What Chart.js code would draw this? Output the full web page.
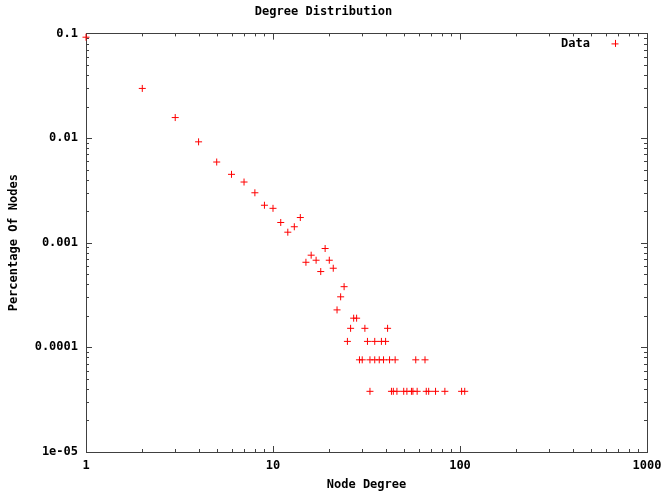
<!DOCTYPE html>
<html>
<head>
<meta charset="utf-8">
<script src="https://cdn.jsdelivr.net/npm/chart.js@4"></script>
<style>
  body { margin: 0; background: #fff; }
  #wrap { width: 664px; height: 494px; }
</style>
</head>
<body>
<div id="wrap"><canvas id="graphDegree" width="664" height="494"></canvas></div>
<script>
// node degree and fraction of nodes with that degree
const degrees = [1, 2, 3, 4, 5, 6, 7, 8, 9, 10,
  11, 12, 13, 14, 15, 16, 17, 18, 19, 20,
  21, 22, 23, 24, 25, 26, 27, 28, 29, 30,
  31, 32, 33, 33, 35, 35, 37, 38, 39, 40,
  41, 42, 43, 44, 45, 46, 50, 52, 55, 56,
  58, 59, 65, 66, 68, 74, 83, 102, 106]
const fractions = [0.092, 0.0298, 0.0157, 0.0092, 0.0059, 0.0045, 0.0038, 0.0030, 0.00228, 0.00213,
  0.00156, 0.00126, 0.00142, 0.00174, 0.00065, 0.00076, 0.00068, 0.00053, 0.00088, 0.00068,
  0.00057, 0.000228, 0.000304, 0.00038, 0.000114, 0.000152, 0.00019, 0.00019, 0.000076, 0.000076,
  0.000152, 0.000114, 0.000076, 0.000038, 0.000076, 0.000114, 0.000076, 0.000114, 0.000076, 0.000114,
  0.000152, 0.000076, 0.000038, 0.000038, 0.000076, 0.000038, 0.000038, 0.000038, 0.000038, 0.000038,
  0.000076, 0.000038, 0.000076, 0.000038, 0.000038, 0.000038, 0.000038, 0.000038, 0.000038]

const xTickValues = [1, 10, 100, 1000]
const xTickLabels = ['1', '10', '100', '1000']
const yTickValues = [1e-5, 1e-4, 1e-3, 1e-2, 0.1]
const yTickLabels = ['1e-05', '0.0001', '0.001', '0.01', '0.1']

const FONT = { family: 'DejaVu Sans Mono', size: 12, weight: 'bold' }

function labelFor(values, labels) {
  return v => {
    const i = values.findIndex(t => Math.abs(t - v) / t < 1e-6)
    return i >= 0 ? labels[i] : ''
  }
}

// gnuplot style frame with inward ticks on all four sides
const frameTicks = {
  id: 'frameTicks',
  beforeDatasetsDraw(chart) {
    const { ctx, chartArea: a, scales: { x, y } } = chart
    ctx.save()
    ctx.strokeStyle = '#404040'
    ctx.lineWidth = 1
    ctx.beginPath()
    for (let e = 0; e < 3; e++) {
      for (let m = 1; m <= 10; m++) {
        const v = m * Math.pow(10, e)
        const px = Math.round(x.getPixelForValue(v)) + 0.5
        const len = (m === 1 || m === 10) ? 6 : 3
        ctx.moveTo(px, a.bottom); ctx.lineTo(px, a.bottom - len)
        ctx.moveTo(px, a.top); ctx.lineTo(px, a.top + len)
      }
    }
    for (let e = -5; e < -1; e++) {
      for (let m = 1; m <= 10; m++) {
        const v = m * Math.pow(10, e)
        const py = Math.round(y.getPixelForValue(v)) + 0.5
        const len = (m === 1 || m === 10) ? 6 : 3
        ctx.moveTo(a.left, py); ctx.lineTo(a.left + len, py)
        ctx.moveTo(a.right, py); ctx.lineTo(a.right - len, py)
      }
    }
    ctx.stroke()
    ctx.strokeRect(Math.round(a.left) + 0.5, Math.round(a.top) + 0.5,
      Math.round(a.right - a.left), Math.round(a.bottom - a.top))
    ctx.restore()
  },
  afterDraw(chart) {
    // key in the top right corner: label text first, then the symbol
    const { ctx, chartArea: a } = chart
    const ds = chart.data.datasets[0]
    const ky = a.top + 10
    ctx.save()
    ctx.font = 'bold 12px "DejaVu Sans Mono"'
    ctx.fillStyle = '#000'
    ctx.textAlign = 'right'
    ctx.textBaseline = 'middle'
    ctx.fillText(ds.label, a.right - 57, ky)
    const cx = a.right - 32
    ctx.strokeStyle = ds.borderColor
    ctx.lineWidth = 1
    ctx.beginPath()
    ctx.moveTo(cx - 3.5, ky + 0.5); ctx.lineTo(cx + 3.5, ky + 0.5)
    ctx.moveTo(cx + 0.5, ky - 3.5); ctx.lineTo(cx + 0.5, ky + 3.5)
    ctx.stroke()
    ctx.restore()
  }
}

const graphDegree = document.getElementById('graphDegree')
const chartDegree = new Chart(graphDegree, {
  type: 'scatter',
  data: {
    datasets: [{
      label: 'Data',
      data: degrees.map((d, i) => ({ x: d, y: fractions[i] })),
      pointStyle: 'cross',
      radius: 3.5,
      borderColor: '#ff0000',
      backgroundColor: '#ff0000',
      borderWidth: 1,
      clip: false
    }]
  },
  options: {
    responsive: false,
    animation: false,
    layout: { padding: { left: 0, right: 17, top: 0, bottom: 0 } },
    plugins: {
      legend: { display: false },
      tooltip: { enabled: false },
      title: {
        display: true,
        text: 'Degree Distribution',
        color: '#000',
        font: FONT,
        padding: { top: 5, bottom: 14 }
      }
    },
    scales: {
      x: {
        type: 'logarithmic',
        min: 1,
        max: 1000,
        grid: { display: false, drawTicks: false, tickLength: 0 },
        border: { display: false },
        ticks: {
          autoSkip: false,
          maxRotation: 0,
          padding: 7,
          color: '#000',
          font: FONT,
          callback: labelFor(xTickValues, xTickLabels)
        },
        title: {
          display: true,
          text: 'Node Degree',
          color: '#000',
          font: FONT,
          padding: { top: 0, bottom: 2 }
        },
        afterFit: s => { s.height = 42; s.paddingLeft = 0; s.paddingRight = 0 }
      },
      y: {
        type: 'logarithmic',
        min: 1e-5,
        max: 0.1,
        grid: { display: false, drawTicks: false, tickLength: 0 },
        border: { display: false },
        ticks: {
          autoSkip: false,
          padding: 8,
          color: '#000',
          font: FONT,
          callback: labelFor(yTickValues, yTickLabels)
        },
        title: {
          display: true,
          text: 'Percentage Of Nodes',
          color: '#000',
          font: FONT,
          padding: { top: 7, bottom: 0 }
        },
        afterFit: s => { s.width = 86 }
      }
    }
  },
  plugins: [frameTicks]
});
</script>
</body>
</html>
